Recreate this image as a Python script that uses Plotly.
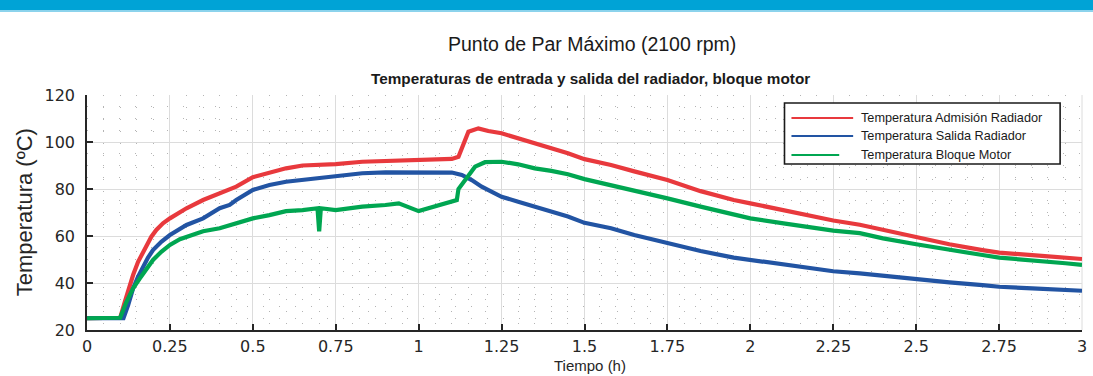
import plotly.graph_objects as go

# ---- data (time in h, temperature in ºC) ----
names = ["Temperatura Admisión Radiador", "Temperatura Salida Radiador", "Temperatura Bloque Motor"]
colors = ["#E8393D", "#2254A3", "#00A651"]

t_red = [0, 0.10, 0.114, 0.129, 0.139, 0.154, 0.169, 0.179, 0.194, 0.209, 0.229, 0.25, 0.30, 0.35,
         0.40, 0.45, 0.50, 0.55, 0.60, 0.65, 0.70, 0.75, 0.83, 0.90, 1.00, 1.10, 1.12, 1.135, 1.15,
         1.18, 1.21, 1.25, 1.30, 1.35, 1.40, 1.45, 1.50, 1.58, 1.65, 1.75, 1.85, 1.95, 2.00, 2.10,
         2.20, 2.25, 2.33, 2.40, 2.50, 2.60, 2.70, 2.75, 2.85, 2.95, 3.00]
T_red = [25, 25.2, 32, 39, 43.4, 49, 53.3, 56.2, 59.7, 62.6, 65.4, 67.5, 71.8, 75.3,
         78.2, 81, 85, 87.1, 88.8, 90, 90.3, 90.6, 91.6, 92, 92.3, 92.8, 93.7, 98.7, 104.4,
         105.8, 104.7, 103.7, 101.6, 99.4, 97.3, 95.2, 92.7, 90.2, 87.5, 83.8, 79.1, 75.3, 73.9, 71,
         68.3, 66.6, 64.8, 62.6, 59.7, 56.5, 54, 52.9, 51.9, 50.8, 50.2]

t_blue = [0, 0.11, 0.124, 0.139, 0.154, 0.169, 0.184, 0.199, 0.224, 0.25, 0.28, 0.30, 0.35, 0.40,
          0.43, 0.45, 0.50, 0.55, 0.60, 0.65, 0.70, 0.75, 0.83, 0.90, 1.00, 1.10, 1.13, 1.16, 1.19,
          1.22, 1.25, 1.30, 1.35, 1.40, 1.45, 1.50, 1.58, 1.65, 1.75, 1.85, 1.95, 2.00, 2.10, 2.20,
          2.25, 2.33, 2.40, 2.50, 2.60, 2.70, 2.75, 2.85, 2.95, 3.00]
T_blue = [25, 25, 30.6, 37.7, 42.7, 47, 50.8, 54, 57.5, 60.4, 63, 64.7, 67.5, 71.8,
          73.2, 75.3, 79.6, 81.7, 83.1, 83.8, 84.8, 85.6, 86.7, 87.1, 87.1, 87, 86, 83.8, 81,
          78.9, 76.7, 74.6, 72.5, 70.4, 68.3, 65.6, 63.3, 60.4, 56.9, 53.6, 50.8, 49.8, 48, 46,
          45, 44.1, 43.1, 41.3, 40.3, 39.1, 38.4, 37.7, 36.9, 36.7]

t_green = [0, 0.10, 0.119, 0.139, 0.159, 0.179, 0.199, 0.224, 0.25, 0.28, 0.30, 0.35, 0.40, 0.45,
           0.50, 0.55, 0.60, 0.65, 0.695, 0.70, 0.705, 0.75, 0.83, 0.90, 0.94, 1.00, 1.05, 1.10,
           1.115, 1.12, 1.14, 1.17, 1.20, 1.25, 1.30, 1.35, 1.40, 1.45, 1.50, 1.58, 1.65, 1.75,
           1.85, 1.95, 2.00, 2.10, 2.20, 2.25, 2.33, 2.40, 2.50, 2.60, 2.70, 2.75, 2.85, 2.95, 3.00]
T_green = [25, 25.2, 32, 37.7, 41.9, 46.2, 49.8, 53.3, 56.2, 58.6, 59.7, 62, 63.3, 65.4,
           67.5, 68.9, 70.6, 71, 71.8, 62, 71.8, 71, 72.5, 73.2, 73.9, 70.6, 72.5, 74.6,
           75.3, 80, 83.8, 89.5, 91.4, 91.6, 90.5, 88.8, 87.7, 86.3, 84.2, 81.7, 79.1, 76,
           72.5, 68.9, 67.5, 65.4, 63.3, 62.3, 61.2, 59, 56.5, 54, 51.9, 50.8, 49.8, 48.4, 47.7]

x_ticks = [0, 0.25, 0.5, 0.75, 1, 1.25, 1.5, 1.75, 2, 2.25, 2.5, 2.75, 3]
x_ticktext = ["0", "0.25", "0.5", "0.75", "1", "1.25", "1.5", "1.75", "2", "2.25", "2.5", "2.75", "3"]
y_ticks = [20, 40, 60, 80, 100, 120]

main_title = "Punto de Par Máximo (2100 rpm)"
sub_title = "Temperaturas de entrada y salida del radiador, bloque motor"
x_title = "Tiempo (h)"
y_title = "Temperatura (ºC)"

# ---- figure ----
W, H = 1093, 376
ml, mr, mt, mb = 87, 6, 95, 46
pw, ph = W - ml - mr, H - mt - mb


def px_x(p):
    return (p - ml) / pw


def px_y(p):
    return (H - mb - p) / ph


fig = go.Figure()
series = [(t_red, T_red), (t_blue, T_blue), (t_green, T_green)]
for (tx, ty), nm, c in zip(series, names, colors):
    fig.add_trace(go.Scatter(x=tx, y=ty, mode="lines", name=nm,
                             line=dict(color=c, width=4.2), showlegend=False))

tick_font = dict(family="DejaVu Sans", size=16, color="#262626")
fig.update_xaxes(range=[0, 3], tickvals=x_ticks, ticktext=x_ticktext, showline=True,
                 linecolor="#262626", linewidth=1.6, ticks="inside", ticklen=6, tickwidth=1.6,
                 tickcolor="#262626", showgrid=True, gridcolor="#DCDCDC", gridwidth=1,
                 zeroline=False, tickfont=tick_font, ticklabelstandoff=1,
                 minor=dict(dtick=0.05, showgrid=True, gridcolor="#B4B4B4", griddash="1px,11px",
                            gridwidth=1, ticks=""))
fig.update_yaxes(range=[20, 120], tickvals=y_ticks, showline=True,
                 linecolor="#262626", linewidth=1.6, ticks="inside", ticklen=6, tickwidth=1.6,
                 tickcolor="#262626", showgrid=True, gridcolor="#DCDCDC", gridwidth=1,
                 zeroline=False, tickfont=tick_font, ticklabelstandoff=7,
                 minor=dict(dtick=5, showgrid=True, gridcolor="#B4B4B4", griddash="1px,15px",
                            gridwidth=1, ticks=""))

shapes = [
    # top band
    dict(type="rect", xref="paper", yref="paper", x0=-0.2, x1=1.2, y0=px_y(10), y1=px_y(-5),
         fillcolor="#00A3D6", line=dict(width=0), layer="above"),
    dict(type="rect", xref="paper", yref="paper", x0=-0.2, x1=1.2, y0=px_y(12), y1=px_y(10),
         fillcolor="#8CD3EC", line=dict(width=0), layer="above"),
    # right frame (light)
    dict(type="line", xref="paper", yref="paper", x0=1, x1=1, y0=0, y1=1,
         line=dict(color="#DCDCDC", width=1), layer="below"),
    # legend box
    dict(type="rect", xref="paper", yref="paper", x0=px_x(788), x1=px_x(1065),
         y0=px_y(164), y1=px_y(103), fillcolor="white", line=dict(color="#1A1A1A", width=1.6),
         layer="above"),
]
annotations = [
    dict(text=main_title, x=px_x(595), y=px_y(44), xref="paper", yref="paper", showarrow=False,
         xanchor="center", yanchor="middle", font=dict(family="Liberation Sans", size=19.5, color="#1A1A1A")),
    dict(text="<b>" + sub_title + "</b>", x=px_x(593), y=px_y(78), xref="paper", yref="paper",
         showarrow=False, xanchor="center", yanchor="middle",
         font=dict(family="Liberation Sans", size=15.3, color="#1A1A1A")),
    dict(text=x_title, x=px_x(593), y=px_y(365), xref="paper", yref="paper", showarrow=False,
         xanchor="center", yanchor="middle", font=dict(family="Liberation Sans", size=15, color="#262626")),
    dict(text=y_title, x=px_x(24), y=px_y(212), xref="paper", yref="paper", showarrow=False,
         xanchor="center", yanchor="middle", textangle=-90,
         font=dict(family="Liberation Sans", size=22, color="#262626")),
]

# manual legend built from the series names and colours
row_y = [118, 136, 155]
line_end = [857, 857, 843]
for nm, c, ry, le in zip(names, colors, row_y, line_end):
    shapes.append(dict(type="line", xref="paper", yref="paper", x0=px_x(795), x1=px_x(le),
                       y0=px_y(ry), y1=px_y(ry), line=dict(color=c, width=2.2), layer="above"))
    annotations.append(dict(text=nm, x=px_x(863), y=px_y(ry), xref="paper", yref="paper",
                            showarrow=False, xanchor="left", yanchor="middle",
                            font=dict(family="Liberation Sans", size=12.7, color="#1A1A1A")))

fig.update_layout(width=W, height=H, margin=dict(l=ml, r=mr, t=mt, b=mb),
                  paper_bgcolor="white", plot_bgcolor="white", showlegend=False,
                  shapes=shapes, annotations=annotations)

fig.write_html("out.html", config={"displayModeBar": False},
               post_script="document.body.style.margin='0';")
